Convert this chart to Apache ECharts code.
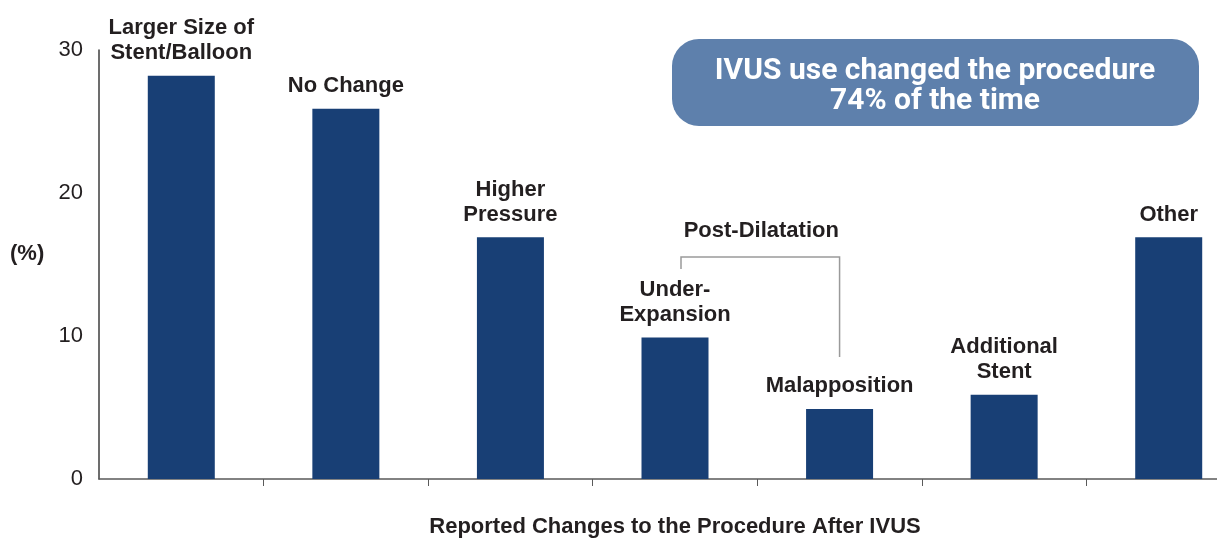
<!DOCTYPE html>
<html>
<head>
<meta charset="utf-8">
<script src="https://cdn.jsdelivr.net/npm/echarts@6/dist/echarts.min.js"></script>
<style>
  html, body { margin: 0; padding: 0; background: #fff; }
  #app { width: 1217px; height: 541px; }
</style>
</head>
<body>
<div id="app"></div>
<script>
// data
var categories = [
  'Larger Size of\nStent/Balloon',
  'No Change',
  'Higher\nPressure',
  'Under-\nExpansion',
  'Malapposition',
  'Additional\nStent',
  'Other'
];
var percentages = [28.2, 25.9, 16.9, 9.9, 4.9, 5.9, 16.9];
var yTicks = [0, 10, 20, 30];
var calloutLines = ['IVUS use changed the procedure', '74% of the time'];
var bracketLabel = 'Post-Dilatation';
var bracketPair = [3, 4]; // Under-Expansion + Malapposition

var FONT = '"Liberation Sans", Arial, sans-serif';
var INK = '#231f20';

var chart = echarts.init(document.getElementById('app'));

chart.setOption({
  animation: false,
  // grid runs past the right edge on purpose, the last slot is cut in the original too
  grid: { left: 99, top: 50, width: 1152, bottom: 62, outerBoundsMode: 'none', containLabel: false },
  xAxis: {
    type: 'category',
    data: categories,
    name: 'Reported Changes to the Procedure After IVUS',
    nameLocation: 'middle',
    nameGap: 37,
    nameTextStyle: { fontFamily: FONT, fontSize: 22, fontWeight: 'bold', color: INK },
    axisLine: { lineStyle: { color: '#5a5a5a', width: 1.5 } },
    axisTick: {
      show: true,
      length: 7,
      interval: function (idx) { return idx > 0; },
      lineStyle: { color: '#5a5a5a' }
    },
    axisLabel: { show: false }
  },
  yAxis: {
    type: 'value',
    min: yTicks[0],
    max: yTicks[yTicks.length - 1],
    interval: 10,
    splitLine: { show: false },
    axisLine: { show: true, lineStyle: { color: '#3c3c3c', width: 1.5 } },
    axisTick: { show: false },
    axisLabel: { fontFamily: FONT, fontSize: 22, color: INK, margin: 16 }
  },
  series: [{
    type: 'bar',
    data: percentages,
    barWidth: 67,
    itemStyle: { color: '#183f75' },
    label: {
      show: true,
      position: 'top',
      distance: 10,
      formatter: '{b}',
      fontFamily: FONT,
      fontSize: 22,
      lineHeight: 25,
      fontWeight: 'bold',
      color: INK,
      align: 'center'
    }
  }]
});

// bracket over the two post-dilatation bars
var xa = chart.convertToPixel({ xAxisIndex: 0 }, categories[bracketPair[0]]);
var xb = chart.convertToPixel({ xAxisIndex: 0 }, categories[bracketPair[1]]);

chart.setOption({
  graphic: [
    {
      type: 'text',
      left: 10,
      top: 243,
      style: { text: '(%)', font: 'bold 22px ' + FONT, fill: INK }
    },
    {
      type: 'polyline',
      shape: { points: [[xa + 6, 269], [xa + 6, 257], [xb, 257], [xb, 357]] },
      style: { stroke: '#9a9a9a', lineWidth: 1.5, fill: null }
    },
    {
      type: 'text',
      x: (xa + xb) / 2 + 4,
      y: 231,
      style: {
        text: bracketLabel, font: 'bold 22px ' + FONT, fill: INK,
        align: 'center', verticalAlign: 'middle'
      }
    },
    {
      type: 'group',
      left: 672,
      top: 39,
      children: [
        {
          type: 'rect',
          shape: { x: 0, y: 0, width: 527, height: 87, r: 27 },
          style: { fill: '#5e80ac' }
        },
        {
          type: 'text',
          x: 263,
          y: 47.5,
          style: {
            text: calloutLines.join('\n'),
            font: 'bold 30px Roboto, ' + FONT,
            lineHeight: 30,
            fill: '#ffffff',
            align: 'center',
            verticalAlign: 'middle'
          }
        }
      ]
    }
  ]
});
</script>
</body>
</html>
